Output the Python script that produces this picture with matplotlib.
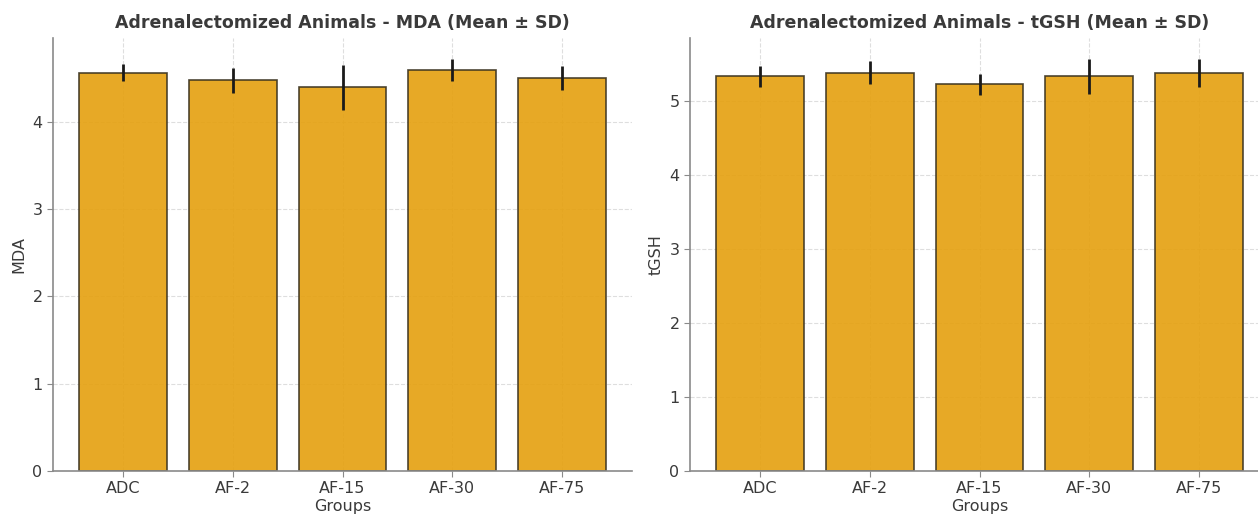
import matplotlib
matplotlib.use("Agg")
import matplotlib.pyplot as plt

groups = ["ADC", "AF-2", "AF-15", "AF-30", "AF-75"]

mda_mean = [4.56, 4.47, 4.39, 4.59, 4.50]
mda_sd = [0.10, 0.14, 0.26, 0.13, 0.14]

tgsh_mean = [5.34, 5.39, 5.23, 5.34, 5.39]
tgsh_sd = [0.14, 0.155, 0.14, 0.24, 0.19]

plt.rcParams["font.family"] = ["DejaVu Sans"]

BAR_COLOR = "#E5A00E"
TEXT = "#3a3a3a"
SPINE = "#8a8a8a"

fig = plt.figure(figsize=(12.58, 5.16), dpi=100)
W, H = 1258, 516
ax1 = fig.add_axes([53 / W, 45 / H, 579 / W, 433 / H])
ax2 = fig.add_axes([690 / W, 45 / H, 579 / W, 433 / H])


def draw_panel(ax, means, sds, ylabel, title):
    ax.set_axisbelow(True)
    ax.grid(True, linestyle="--", color="#d0d0d0", linewidth=0.8, alpha=0.7)
    ax.bar(groups, means, yerr=sds, width=0.8, color=BAR_COLOR, alpha=0.9,
           edgecolor="#3b3320", linewidth=1.2,
           error_kw=dict(ecolor="#1a1a1a", elinewidth=2.0, capsize=0))
    for side in ("top", "right"):
        ax.spines[side].set_visible(False)
    for side in ("left", "bottom"):
        ax.spines[side].set_color(SPINE)
        ax.spines[side].set_linewidth(1.2)
    ax.tick_params(colors=SPINE, labelcolor=TEXT, labelsize=11.5, length=4)
    ax.set_xlabel("Groups", fontsize=11.5, color=TEXT, labelpad=2)
    ax.set_ylabel(ylabel, fontsize=11.5, color=TEXT)
    ax.set_title(title, fontsize=12.5, fontweight="bold", color=TEXT, pad=7)


draw_panel(ax1, mda_mean, mda_sd, "MDA",
           "Adrenalectomized Animals - MDA (Mean \u00b1 SD)")
draw_panel(ax2, tgsh_mean, tgsh_sd, "tGSH",
           "Adrenalectomized Animals - tGSH (Mean \u00b1 SD)")

fig.savefig("out.png", dpi=100)
